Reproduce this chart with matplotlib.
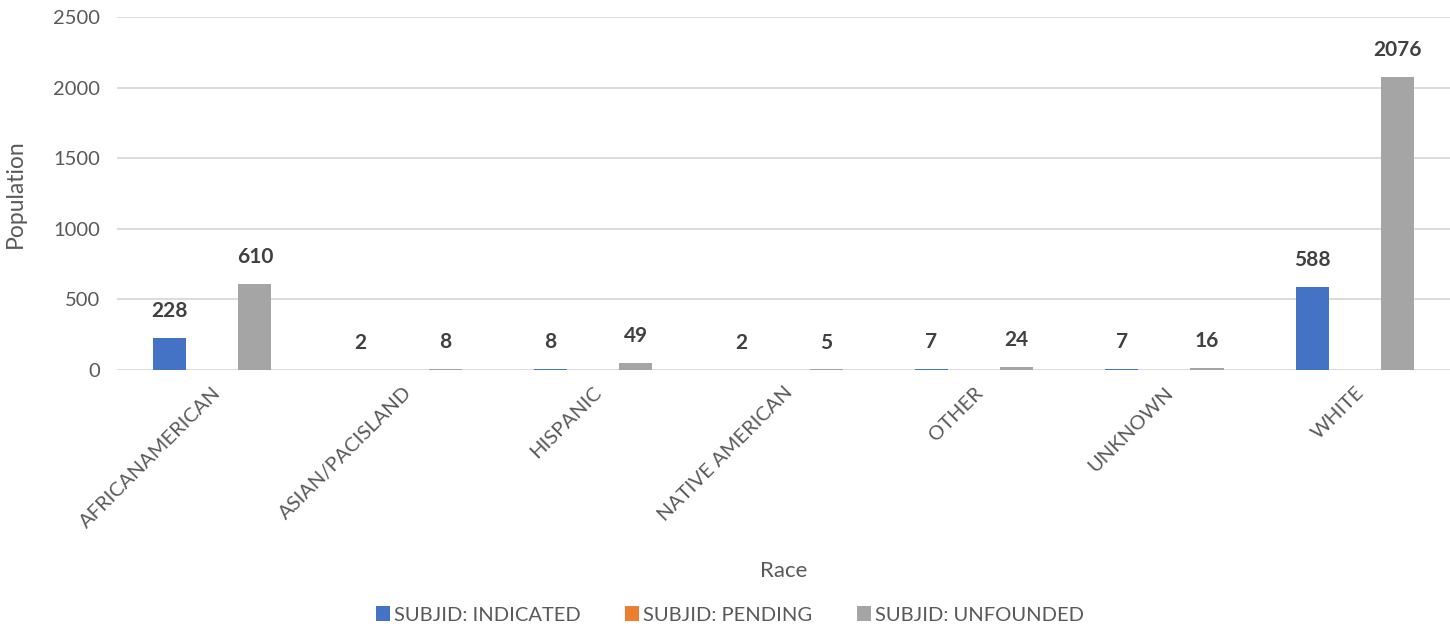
import numpy as np
import matplotlib.pyplot as plt

plt.rcParams['font.family'] = ['Lato', 'DejaVu Sans']

races = ['AFRICANAMERICAN', 'ASIAN/PACISLAND', 'HISPANIC', 'NATIVE AMERICAN',
         'OTHER', 'UNKNOWN', 'WHITE']
indicated = [228, 2, 8, 2, 7, 7, 588]
pending = [np.nan] * 7
unfounded = [610, 8, 49, 5, 24, 16, 2076]

series = [('SUBJID: INDICATED', indicated, '#4472c4'),
          ('SUBJID: PENDING', pending, '#ed7d31'),
          ('SUBJID: UNFOUNDED', unfounded, '#a5a5a5')]

fig = plt.figure(figsize=(14.5, 6.27), dpi=100)
ax = fig.add_axes([117 / 1450, 1 - 370 / 627, 1 - 117 / 1450, 353 / 627])

x = np.arange(len(races))
slot = 0.224
width = 0.174
for i, (name, vals, col) in enumerate(series):
    pos = x + (i - 1) * slot
    bars = ax.bar(pos, vals, width, color=col, label=name, zorder=3)
    if name != 'SUBJID: PENDING':
        for xp, v in zip(pos, vals):
            ax.annotate(f'{v}', (xp, v), xytext=(0, 12), textcoords='offset points',
                        ha='center', va='bottom', fontsize=15, fontweight='bold',
                        color='#404040')

ax.set_xlim(-0.5, len(races) - 0.5)
ax.set_ylim(0, 2500)
ax.set_yticks(np.arange(0, 2501, 500))
ax.grid(axis='y', color='#d9d9d9', linewidth=1.3, zorder=0)
for s in ax.spines.values():
    s.set_visible(False)
ax.tick_params(length=0, labelsize=14.5, labelcolor='#595959')
ax.tick_params(axis='y', pad=12)
ax.set_xticks(x)
ax.set_xticklabels(races, rotation=45, ha='right', rotation_mode='anchor')
ax.tick_params(axis='x', pad=10)

ax.set_xlabel('Race', fontsize=16, color='#595959')
ax.set_ylabel('Population', fontsize=16.5, color='#595959')
ax.xaxis.set_label_coords(0.5, -0.54)
ax.yaxis.set_label_coords(-0.068, 0.5)

fig.legend(loc='center', bbox_to_anchor=(730 / 1450, 1 - 615 / 627), ncol=3,
           frameon=False, fontsize=14.5, handlelength=0.7, handleheight=0.7,
           handletextpad=0.2, columnspacing=2.2, labelcolor='#595959')

plt.savefig('out.png', dpi=100)
